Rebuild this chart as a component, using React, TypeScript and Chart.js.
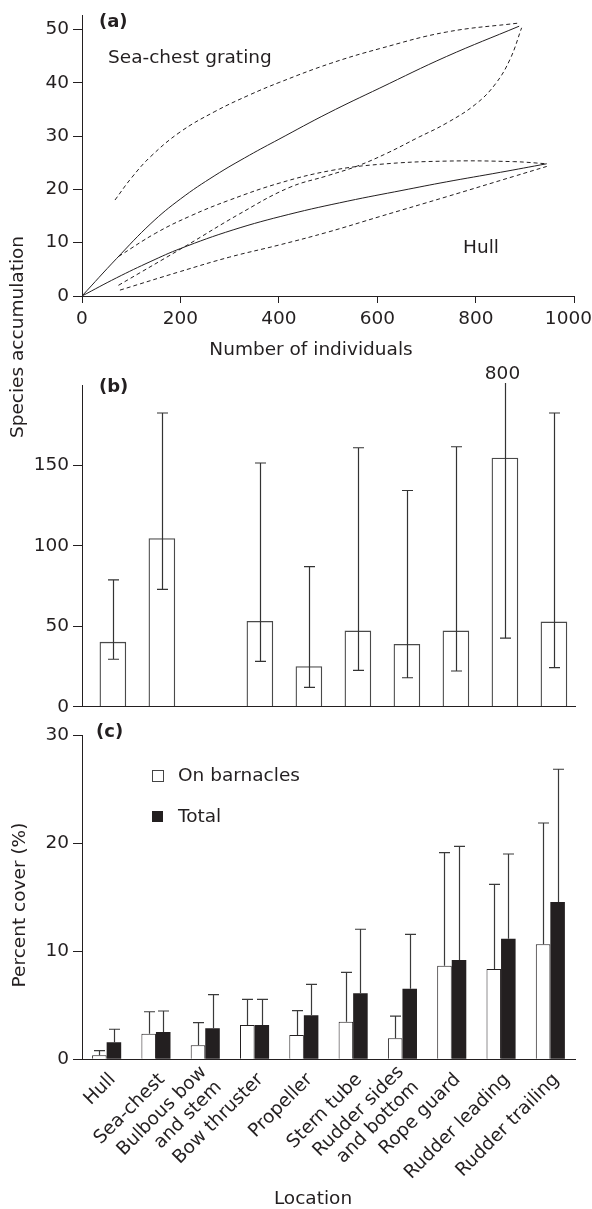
import React, { useEffect, useRef } from 'react';
import { Chart, registerables } from 'chart.js';

Chart.register(...registerables);

const FONT = "'DejaVu Sans', sans-serif";
const INK = '#231f20';
const FS = 18.5;

// ---------- Panel (a): species accumulation ----------
const seaChestX = [0, 70, 140, 200, 270, 340, 400, 500, 605, 740, 888];
const seaChestMean = [0, 7, 13.6, 18.2, 22.6, 26.4, 29.4, 34.3, 39, 44.9, 50.6];
const seaChestUpperX = [67, 100, 140, 200, 270, 340, 402, 504, 605, 740, 888];
const seaChestUpper = [18, 22.1, 26.2, 30.8, 34.6, 37.7, 40.1, 43.6, 46.4, 49.5, 51.2];
const seaChestLowerX = [74, 213, 320, 420, 500, 560, 620, 680, 740, 800, 840, 870, 893];
const seaChestLower = [2, 9.5, 15.4, 20.3, 22.6, 24.4, 26.8, 29.6, 32.4, 36, 39.8, 44.5, 50.3];
const hullX = [0, 70, 140, 200, 307, 420, 540, 650, 740, 850, 944];
const hullMean = [0, 3.4, 6.5, 8.9, 12.4, 15.3, 17.8, 19.8, 21.4, 23.2, 24.8];
const hullUpperX = [74, 150, 220, 300, 402, 504, 605, 740, 876, 944];
const hullUpper = [7.4, 11.8, 15, 18, 21.2, 23.5, 24.7, 25.3, 25.2, 24.8];
const hullLowerX = [77, 200, 300, 402, 500, 605, 740, 876, 944];
const hullLower = [1.1, 4.6, 7.3, 9.6, 12, 14.9, 18.6, 22.4, 24.3];
const individualsTicks = [0, 200, 400, 600, 800, 1000];
const accumulationTicks = [0, 10, 20, 30, 40, 50];

// ---------- Panel (b): species per location ----------
const speciesMean = [40.1, 104.5, null, 53.1, 24.9, 47.1, 38.8, 47.1, 154.6, 52.7];
const speciesLow = [29.5, 73, null, 28.2, 12, 22.6, 18, 22.2, 42.6, 24.3];
const speciesHigh = [78.8, 182.6, null, 151.5, 87.1, 161, 134.4, 161.6, 800, 182.6];
const speciesTicks = [0, 50, 100, 150];

// ---------- Panel (c): percent cover ----------
const locations: (string | string[])[] = [
  'Hull',
  'Sea-chest',
  ['Bulbous bow', 'and stem'],
  'Bow thruster',
  'Propeller',
  'Stern tube',
  ['Rudder sides', 'and bottom'],
  'Rope guard',
  'Rudder leading',
  'Rudder trailing',
];
const onBarnacles = [0.37, 2.37, 1.3, 3.17, 2.25, 3.48, 1.94, 8.66, 8.35, 10.64];
const onBarnaclesHigh = [0.8, 4.4, 3.39, 5.55, 4.5, 8.05, 4.0, 19.11, 16.19, 21.86];
const totalCover = [1.57, 2.52, 2.87, 3.17, 4.07, 6.1, 6.53, 9.19, 11.16, 14.55];
const totalCoverHigh = [2.78, 4.47, 5.98, 5.55, 6.94, 12.03, 11.56, 19.7, 18.99, 26.83];
const coverTicks = [0, 10, 20, 30];

// ---------- layout ----------
const W = 592;
const A = { top: 0, h: 340, areaTop: 15, areaBottom: 296, left: 82, right: 574.3 };
const B = { top: 340, h: 380, areaTop: 385, areaBottom: 706.7, left: 82, right: 575 };
const C = { top: 720, h: 489, areaTop: 735, areaBottom: 1059.3, left: 82, right: 575 };

function fixWidth(w: number) {
  return (axis: any) => {
    axis.width = w;
    axis.paddingTop = 0; axis.paddingBottom = 0; axis.paddingLeft = 0; axis.paddingRight = 0;
  };
}
function fixHeight(h: number) {
  return (axis: any) => {
    axis.height = h;
    axis.paddingTop = 0; axis.paddingBottom = 0; axis.paddingLeft = 0; axis.paddingRight = 0;
  };
}
function keepTicks(list: number[]) {
  return (scale: any) => {
    scale.ticks = list.map((v) => ({ value: v }));
  };
}

const errorBarPlugin = {
  id: 'errorBars',
  afterDatasetsDraw(chart: any) {
    const { ctx, chartArea } = chart;
    const yScale = chart.scales.y;
    chart.data.datasets.forEach((ds: any, di: number) => {
      const hi = ds.errHigh;
      if (!hi) return;
      const lo = ds.errLow;
      const meta = chart.getDatasetMeta(di);
      ctx.save();
      ctx.strokeStyle = ds.errColor || '#333';
      ctx.lineWidth = 1.2;
      const cap = 5.5;
      meta.data.forEach((el: any, i: number) => {
        const raw = ds.data[i];
        const v = raw && typeof raw === 'object' ? raw.y : raw;
        if (v == null || hi[i] == null) return;
        const x = Math.round(el.x) + 0.5;
        const yHiRaw = yScale.getPixelForValue(hi[i]);
        const clipped = yHiRaw < chartArea.top;
        const yHi = clipped ? chartArea.top - 2 : yHiRaw;
        const yLo = lo && lo[i] != null ? yScale.getPixelForValue(lo[i]) : yScale.getPixelForValue(v);
        ctx.beginPath();
        ctx.moveTo(x, yLo);
        ctx.lineTo(x, yHi);
        if (!clipped) {
          ctx.moveTo(x - cap, yHi);
          ctx.lineTo(x + cap, yHi);
        }
        if (lo && lo[i] != null) {
          ctx.moveTo(x - cap, yLo);
          ctx.lineTo(x + cap, yLo);
        }
        ctx.stroke();
      });
      ctx.restore();
    });
  },
};

// Rotated, centred multi-line category labels, positioned from the x scale's tick pixels.
const rotatedLabelsPlugin = {
  id: 'rotatedLabels',
  afterDraw(chart: any) {
    const { ctx, chartArea } = chart;
    const xs = chart.scales.x;
    const lh = FS * 1.15;
    ctx.save();
    ctx.font = `${FS}px ${FONT}`;
    ctx.fillStyle = INK;
    ctx.textAlign = 'right';
    ctx.textBaseline = 'middle';
    chart.data.labels.forEach((lab: any, i: number) => {
      const lines: string[] = Array.isArray(lab) ? lab : [lab];
      const x = xs.getPixelForTick(i) + 6;
      const y = chartArea.bottom + 17.5;
      ctx.save();
      ctx.translate(x, y);
      ctx.rotate(-Math.PI / 4);
      lines.forEach((t, k) => ctx.fillText(t, 0, (k - (lines.length - 1) / 2) * lh));
      ctx.restore();
    });
    ctx.restore();
  },
};

function curve(xs: number[], ys: number[], dashed: boolean) {
  return {
    data: xs.map((x, i) => ({ x, y: ys[i] })),
    borderColor: INK,
    borderWidth: 1,
    borderDash: dashed ? [4, 3] : [],
    pointRadius: 0,
    tension: 0.4,
    fill: false,
  };
}

const tickMarks = (len: number) => ({
  display: true,
  drawOnChartArea: false,
  drawTicks: true,
  tickLength: len,
  color: INK,
  lineWidth: 1,
});

function configA(): any {
  return {
    type: 'line',
    data: {
      datasets: [
        curve(seaChestX, seaChestMean, false),
        curve(seaChestUpperX, seaChestUpper, true),
        curve(seaChestLowerX, seaChestLower, true),
        curve(hullX, hullMean, false),
        curve(hullUpperX, hullUpper, true),
        curve(hullLowerX, hullLower, true),
      ],
    },
    options: {
      animation: false,
      responsive: false,
      layout: { padding: { top: A.areaTop - A.top, right: W - A.right, bottom: 0, left: 0 } },
      plugins: { legend: { display: false }, tooltip: { enabled: false } },
      scales: {
        x: {
          type: 'linear',
          min: 0,
          max: 1000,
          afterBuildTicks: keepTicks(individualsTicks),
          afterFit: fixHeight(A.top + A.h - A.areaBottom),
          grid: tickMarks(7),
          border: { display: true, color: INK, width: 1 },
          ticks: {
            padding: 5.5,
            color: INK,
            font: { size: FS, family: FONT },
            maxRotation: 0,
            callback: (v: number) => (v === 1000 ? '1000\u2007' : String(v)),
          },
        },
        y: {
          type: 'linear',
          min: 0,
          max: 52.7,
          afterBuildTicks: keepTicks(accumulationTicks),
          afterFit: fixWidth(A.left),
          grid: tickMarks(9),
          border: { display: true, color: INK, width: 1 },
          ticks: { padding: 4, color: INK, font: { size: FS, family: FONT }, callback: (v: number) => String(v) },
        },
      },
    },
  };
}

function configB(): any {
  return {
    type: 'bar',
    data: {
      datasets: [
        {
          data: speciesMean.map((v, i) => ({ x: i, y: v })),
          backgroundColor: '#ffffff',
          borderColor: '#4a4a4a',
          borderWidth: 1.3,
          barThickness: 26,
          errLow: speciesLow,
          errHigh: speciesHigh,
          errColor: '#333',
        },
      ],
    },
    options: {
      animation: false,
      responsive: false,
      layout: { padding: { top: B.areaTop - B.top, right: W - B.right, bottom: 0, left: 0 } },
      plugins: { legend: { display: false }, tooltip: { enabled: false } },
      scales: {
        x: {
          type: 'linear',
          min: -0.63,
          max: 9.43,
          offset: false,
          afterFit: fixHeight(B.top + B.h - B.areaBottom),
          grid: { display: false, drawTicks: false },
          border: { display: true, color: INK, width: 1, z: 1 },
          ticks: { display: false },
        },
        y: {
          type: 'linear',
          min: 0,
          max: 200,
          afterBuildTicks: keepTicks(speciesTicks),
          afterFit: fixWidth(B.left),
          grid: tickMarks(9),
          border: { display: true, color: INK, width: 1, z: 1 },
          ticks: { padding: 4, color: INK, font: { size: FS, family: FONT }, callback: (v: number) => String(v) },
        },
      },
    },
    plugins: [errorBarPlugin],
  };
}

function configC(): any {
  return {
    type: 'bar',
    data: {
      labels: locations,
      datasets: [
        {
          label: 'On barnacles',
          data: onBarnacles,
          backgroundColor: '#ffffff',
          borderColor: INK,
          borderWidth: 1,
          categoryPercentage: 0.59,
          barPercentage: 1,
          errHigh: onBarnaclesHigh,
          errColor: '#3a3a3a',
        },
        {
          label: 'Total',
          data: totalCover,
          backgroundColor: INK,
          borderWidth: 0,
          categoryPercentage: 0.59,
          barPercentage: 1,
          errHigh: totalCoverHigh,
          errColor: '#3a3a3a',
        },
      ],
    },
    options: {
      animation: false,
      responsive: false,
      layout: { padding: { top: C.areaTop - C.top, right: W - C.right, bottom: 0, left: 0 } },
      plugins: { legend: { display: false }, tooltip: { enabled: false } },
      scales: {
        x: {
          type: 'category',
          afterFit: fixHeight(C.top + C.h - C.areaBottom),
          grid: { display: false, drawTicks: false },
          border: { display: true, color: INK, width: 1, z: 1 },
          ticks: { display: false },
        },
        y: {
          type: 'linear',
          min: 0,
          max: 30,
          afterBuildTicks: keepTicks(coverTicks),
          afterFit: fixWidth(C.left),
          grid: tickMarks(9),
          border: { display: true, color: INK, width: 1, z: 1 },
          ticks: { padding: 4, color: INK, font: { size: FS, family: FONT }, callback: (v: number) => String(v) },
        },
      },
    },
    plugins: [errorBarPlugin, rotatedLabelsPlugin],
  };
}

const textBase: React.CSSProperties = {
  position: 'absolute',
  fontFamily: FONT,
  fontSize: FS,
  lineHeight: 1,
  color: INK,
  whiteSpace: 'nowrap',
};

function Txt(props: { x: number; y: number; text: string; bold?: boolean; center?: boolean; size?: number }) {
  return (
    <div
      style={{
        ...textBase,
        left: props.x,
        top: props.y,
        fontSize: props.size ?? FS,
        fontWeight: props.bold ? 'bold' : 'normal',
        transform: props.center ? 'translateX(-50%)' : undefined,
      }}
    >
      {props.text}
    </div>
  );
}

function VTxt(props: { cx: number; cy: number; text: string }) {
  return (
    <div
      style={{
        ...textBase,
        left: props.cx,
        top: props.cy,
        transform: 'translate(-50%, -50%) rotate(-90deg)',
      }}
    >
      {props.text}
    </div>
  );
}

export default function App() {
  const aRef = useRef<HTMLCanvasElement>(null);
  const bRef = useRef<HTMLCanvasElement>(null);
  const cRef = useRef<HTMLCanvasElement>(null);

  useEffect(() => {
    Chart.defaults.font.family = FONT;
    Chart.defaults.font.size = FS;
    Chart.defaults.color = INK;
    const charts = [
      new Chart(aRef.current as HTMLCanvasElement, configA()),
      new Chart(bRef.current as HTMLCanvasElement, configB()),
      new Chart(cRef.current as HTMLCanvasElement, configC()),
    ];
    return () => charts.forEach((c) => c.destroy());
  }, []);

  const canvasStyle = (top: number, h: number): React.CSSProperties => ({
    position: 'absolute',
    left: 0,
    top,
    width: W,
    height: h,
  });

  return (
    <div style={{ position: 'absolute', left: 0, top: 0, width: W, height: 1209, overflow: 'hidden', background: '#fff' }}>
      <canvas ref={aRef} width={W} height={A.h} style={canvasStyle(A.top, A.h)} />
      <canvas ref={bRef} width={W} height={B.h} style={canvasStyle(B.top, B.h)} />
      <canvas ref={cRef} width={W} height={C.h} style={canvasStyle(C.top, C.h)} />

      <Txt x={99} y={12.4} text="(a)" bold size={18} />
      <Txt x={108} y={47.8} text="Sea-chest grating" />
      <Txt x={463} y={237.8} text="Hull" />
      <Txt x={311} y={340} text="Number of individuals" center />
      <VTxt cx={17} cy={336.5} text="Species accumulation" />

      <Txt x={99} y={377.4} text="(b)" bold size={18} />
      <Txt x={502.5} y={363.6} text="800" center />

      <Txt x={96} y={722.4} text="(c)" bold size={18} />
      <VTxt cx={19} cy={905} text="Percent cover (%)" />
      <div style={{ position: 'absolute', left: 152, top: 770, width: 10, height: 10, border: '1px solid #444', background: '#fff' }} />
      <Txt x={178} y={766} text="On barnacles" />
      <div style={{ position: 'absolute', left: 152, top: 811, width: 11, height: 11, background: INK }} />
      <Txt x={178} y={807} text="Total" />
      <Txt x={313} y={1189.4} text="Location" center />
    </div>
  );
}
